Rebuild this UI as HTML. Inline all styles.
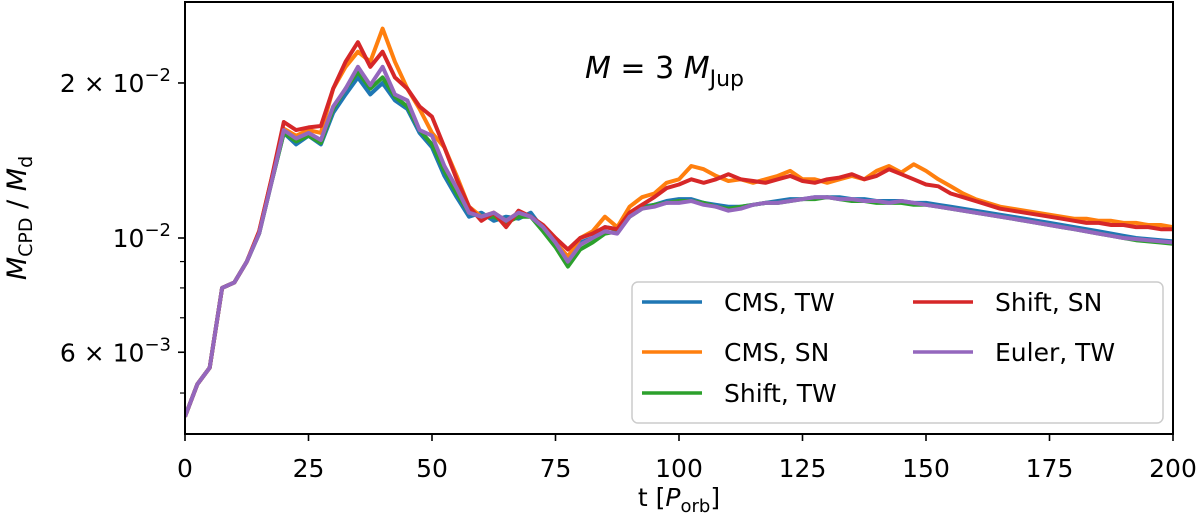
<!DOCTYPE html>
<html><head><meta charset="utf-8"><style>
body{margin:0;background:#fff;}
svg text{font-family:"DejaVu Sans","Liberation Sans",sans-serif;fill:#000;}
</style></head><body>
<svg id="chart" width="1200" height="527"></svg>
<script>
const tMax = 200;
const xTicks = [0,25,50,75,100,125,150,175,200];
const seriesNames = ["CMS, TW","CMS, SN","Shift, TW","Shift, SN","Euler, TW"];
const seriesColors = ["#1f77b4","#ff7f0e","#2ca02c","#d62728","#9467bd"];
const cmsTW = [0.45,0.52,0.56,0.80,0.82,0.9,1.02,1.28,1.6,1.52,1.58,1.52,1.75,1.9,2.05,1.9,2.0,1.85,1.78,1.6,1.5,1.32,1.2,1.1,1.12,1.08,1.1,1.09,1.12,1.04,0.97,0.92,0.98,1.0,1.05,1.04,1.12,1.15,1.16,1.18,1.19,1.19,1.17,1.16,1.15,1.15,1.16,1.17,1.18,1.19,1.19,1.2,1.2,1.2,1.19,1.19,1.18,1.18,1.18,1.17,1.17,1.16,1.15,1.14,1.13,1.12,1.11,1.10,1.09,1.08,1.07,1.06,1.05,1.04,1.03,1.02,1.01,1.0,0.995,0.99,0.985];
const cmsSN = [0.45,0.52,0.56,0.80,0.82,0.9,1.03,1.3,1.63,1.58,1.62,1.6,1.95,2.15,2.3,2.2,2.55,2.2,1.95,1.78,1.6,1.5,1.32,1.15,1.1,1.12,1.08,1.12,1.1,1.05,0.98,0.92,1.0,1.03,1.1,1.05,1.15,1.2,1.22,1.28,1.3,1.38,1.36,1.32,1.29,1.3,1.28,1.3,1.32,1.35,1.3,1.3,1.28,1.3,1.32,1.3,1.35,1.38,1.34,1.39,1.35,1.3,1.26,1.22,1.19,1.17,1.15,1.14,1.13,1.12,1.11,1.1,1.09,1.09,1.08,1.08,1.07,1.07,1.06,1.06,1.05];
const shiftTW = [0.45,0.52,0.56,0.80,0.82,0.9,1.02,1.28,1.6,1.54,1.58,1.53,1.78,1.95,2.1,1.95,2.05,1.88,1.8,1.62,1.52,1.35,1.22,1.12,1.1,1.1,1.07,1.1,1.1,1.03,0.96,0.88,0.95,0.98,1.02,1.03,1.1,1.14,1.16,1.17,1.18,1.18,1.17,1.15,1.14,1.15,1.16,1.17,1.17,1.18,1.19,1.19,1.2,1.19,1.18,1.18,1.17,1.17,1.17,1.16,1.16,1.15,1.14,1.13,1.12,1.11,1.10,1.09,1.08,1.07,1.06,1.05,1.04,1.03,1.02,1.01,1.0,0.99,0.985,0.98,0.975];
const shiftSN = [0.45,0.52,0.56,0.80,0.82,0.9,1.03,1.3,1.68,1.62,1.64,1.65,1.95,2.2,2.4,2.15,2.3,2.05,1.95,1.8,1.72,1.5,1.3,1.15,1.08,1.12,1.05,1.13,1.1,1.06,1.0,0.95,1.0,1.02,1.05,1.04,1.12,1.16,1.2,1.25,1.27,1.3,1.28,1.3,1.33,1.3,1.29,1.28,1.3,1.32,1.29,1.28,1.3,1.31,1.33,1.3,1.32,1.36,1.33,1.3,1.27,1.26,1.22,1.2,1.18,1.16,1.14,1.13,1.12,1.11,1.10,1.09,1.08,1.07,1.07,1.06,1.06,1.05,1.05,1.04,1.04];
const eulerTW = [0.45,0.52,0.56,0.80,0.82,0.9,1.02,1.28,1.62,1.56,1.6,1.55,1.8,1.95,2.15,1.98,2.15,1.9,1.85,1.62,1.58,1.38,1.25,1.12,1.1,1.12,1.08,1.12,1.1,1.05,0.98,0.9,0.97,1.0,1.03,1.02,1.1,1.14,1.15,1.17,1.17,1.18,1.16,1.15,1.13,1.14,1.16,1.17,1.17,1.18,1.19,1.2,1.2,1.19,1.19,1.18,1.18,1.17,1.18,1.17,1.16,1.15,1.14,1.13,1.12,1.11,1.1,1.09,1.08,1.07,1.06,1.05,1.04,1.03,1.02,1.01,1.0,0.995,0.99,0.985,0.98];
const seriesValues = [cmsTW, cmsSN, shiftTW, shiftSN, eulerTW];
const drawOrder = [0,1,2,3,4];

const NS="http://www.w3.org/2000/svg";
const svg=document.getElementById('chart');
const L=185,R=1173,T=2,B=434;
const x=t=>L+(t/tMax)*(R-L);
const y=v=>238-Math.log10(v)*515; // v in units of 1e-2
function mk(tag,attrs,parent){const e=document.createElementNS(NS,tag);for(const k in attrs)e.setAttribute(k,attrs[k]);(parent||svg).appendChild(e);return e;}

const clip=mk('clipPath',{id:'clip'});mk('rect',{x:L,y:T,width:R-L,height:B-T},clip);
const g=mk('g',{'clip-path':'url(#clip)'});


drawOrder.forEach(i=>{
  const vals=seriesValues[i];const step=tMax/(vals.length-1);
  const d=vals.map((v,j)=>(j?'L':'M')+x(j*step).toFixed(1)+','+y(v).toFixed(1)).join('');
  const p=mk('path',{d:d,fill:'none',stroke:seriesColors[i],'stroke-width':4,'stroke-linejoin':'round'},g);
  
  
});
const frame=mk('rect',{x:L,y:T,width:R-L,height:B-T,fill:'none',stroke:'#000','stroke-width':2});



xTicks.forEach(t=>{
  mk('line',{x1:x(t),x2:x(t),y1:B,y2:B+7,stroke:'#000','stroke-width':1.6});
  const tx=mk('text',{x:x(t),y:B+43,'text-anchor':'middle','font-size':25});tx.textContent=t;
  
  
});
[0.5,0.7,0.8,0.9].forEach(v=>mk('line',{x1:L-5,x2:L,y1:y(v),y2:y(v),stroke:'#000','stroke-width':1.2}));
[2,1,0.6].forEach(v=>mk('line',{x1:L-7,x2:L,y1:y(v),y2:y(v),stroke:'#000','stroke-width':1.6}));
function ylab(v,html,name){const tx=mk('text',{x:L-14,y:y(v)+9,'text-anchor':'end','font-size':25});tx.innerHTML=html;
  
  }
ylab(2,'2 × 10<tspan dy="-11" font-size="18">−2</tspan>','y-tick-2e-2');
ylab(1,'10<tspan dy="-11" font-size="18">−2</tspan>','y-tick-1e-2');
ylab(0.6,'6 × 10<tspan dy="-11" font-size="18">−3</tspan>','y-tick-6e-3');

const xt=mk('text',{x:(L+R)/2,y:506,'text-anchor':'middle','font-size':25});
xt.innerHTML='t  [<tspan font-style="italic">P</tspan><tspan dy="6" font-size="18">orb</tspan><tspan dy="-6">]</tspan>';


const yt=mk('text',{x:0,y:0,'text-anchor':'middle','font-size':27,transform:'translate(26,218) rotate(-90)'});
yt.innerHTML='<tspan font-style="italic">M</tspan><tspan dy="6" font-size="19">CPD</tspan><tspan dy="-6"> / </tspan><tspan font-style="italic">M</tspan><tspan dy="6" font-size="19">d</tspan>';


const ti=mk('text',{x:585,y:78,'font-size':30});
ti.innerHTML='<tspan font-style="italic">M</tspan> = 3 <tspan font-style="italic">M</tspan><tspan dy="8" font-size="22">Jup</tspan>';



const lg=mk('g',{});


mk('rect',{x:632,y:282,width:531,height:141,rx:6,fill:'#fff','fill-opacity':0.85,stroke:'#ccc','stroke-width':1.5},lg);
const pos=[[642,302],[642,352],[642,393],[913,302],[913,352]];
seriesNames.forEach((n,i)=>{
  const [px,py]=pos[i];
  const e=mk('g',{},lg);
  
  
  mk('line',{x1:px,x2:px+60,y1:py,y2:py,stroke:seriesColors[i],'stroke-width':3.5},e);
  const tx=mk('text',{x:px+82,y:py+9,'font-size':25},e);tx.textContent=n;
});
</script>
</body></html>
